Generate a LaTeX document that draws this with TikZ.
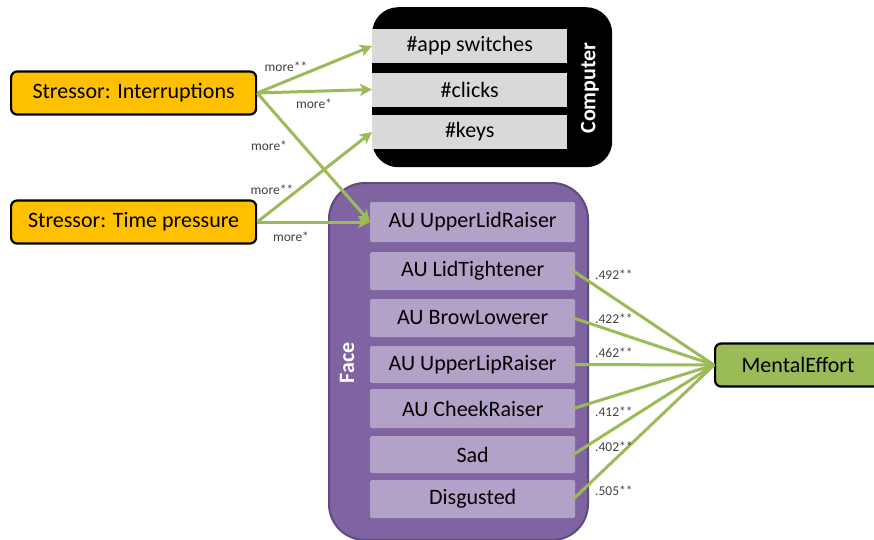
\documentclass[tikz,border=0pt]{standalone}
\usepackage{fontspec}
\setmainfont{Carlito}
\usetikzlibrary{arrows.meta}
\definecolor{orng}{HTML}{FFC000}
\definecolor{grn}{HTML}{9BBB59}
\definecolor{purp}{HTML}{8064A2}
\definecolor{purpdark}{HTML}{5F4A7E}
\definecolor{lpurp}{HTML}{B3A2C7}
\definecolor{lgray}{HTML}{D9D9D9}
\definecolor{lbl}{HTML}{404040}
\tikzset{
  mainfont/.style={font=\fontsize{22}{26}\selectfont},
  stressor/.style={mainfont, draw=black, line width=2.2pt, fill=orng, rounded corners=6pt, minimum width=245pt, minimum height=43pt, inner sep=0pt},
  outcome/.style={mainfont, draw=black, line width=2.2pt, fill=grn, rounded corners=6pt, minimum width=170pt, minimum height=43pt, inner sep=0pt, anchor=west},
  compbox/.style={mainfont, fill=lgray, minimum width=195pt, minimum height=34pt, inner sep=0pt, anchor=west},
  facebox/.style={mainfont, fill=lpurp, rounded corners=1.5pt, minimum width=205pt, minimum height=38pt, inner sep=0pt, anchor=west},
  grouplbl/.style={mainfont, text=white, font=\fontsize{22}{26}\selectfont\bfseries, rotate=90},
  edgelbl/.style={text=lbl, font=\fontsize{13.5}{16}\selectfont, inner sep=0pt},
  arr/.style={draw=grn, line width=3pt, -{Stealth[length=12pt,width=12pt,inset=3pt]}},
  link/.style={draw=grn, line width=3pt},
}
\begin{document}
\begin{tikzpicture}[x=1pt,y=-1pt]
\useasboundingbox (0,0) rectangle (874,539);
% containers
\node[fill=black, rounded corners=26pt, minimum width=240pt, minimum height=160pt, anchor=north west, inner sep=0pt] (computer) at (372,7) {};
\node[fill=purp, draw=purpdark, line width=2pt, rounded corners=36pt, minimum width=259pt, minimum height=357pt, anchor=north west, inner sep=0pt] (face) at (328,182) {};
\node[grouplbl] (complbl) at (590,88) {Computer};
\node[grouplbl] (facelbl) at (347,363) {Face};
% computer metrics
\node[compbox] (app) at (372,46) {\#app switches};
\node[compbox] (clicks) at (372,89.5) {\#clicks};
\node[compbox] (keys) at (372,132) {\#keys};
% face metrics
\node[facebox, minimum height=40pt] (ulr) at (370,222) {AU UpperLidRaiser};
\node[facebox] (lt) at (370,271) {AU LidTightener};
\node[facebox] (bl) at (370,318) {AU BrowLowerer};
\node[facebox, minimum height=37pt] (uplr) at (370,364.5) {AU UpperLipRaiser};
\node[facebox, minimum height=39pt] (cr) at (370,408.5) {AU CheekRaiser};
\node[facebox, minimum height=37pt] (sad) at (370,454.5) {Sad};
\node[facebox] (dis) at (370,499) {Disgusted};
% stressors
\node[stressor, anchor=west] (intr) at (10,93) {Stressor: Interruptions};
\node[stressor, anchor=west] (time) at (10,222) {Stressor: Time pressure};
% outcome
\node[outcome] (me) at (714,365) {\hspace*{-4pt}MentalEffort};
% arrows
\draw[arr] (intr.east) -- (app.west);
\draw[arr] (intr.east) -- (clicks.west);
\draw[arr] (intr.east) -- (ulr.west);
\draw[arr] (time.east) -- (keys.west);
\draw[arr] (time.east) -- (ulr.west);
% links to mental effort
\foreach \n in {lt,bl,uplr,cr,sad,dis} {
  \draw[link] ([xshift=-2pt]\n.east) -- (me.west);
}
% labels
\node[edgelbl] (l1) at (286,67) {more**};
\node[edgelbl] (l2) at (314,104) {more*};
\node[edgelbl] (l3) at (269,146) {more*};
\node[edgelbl] (l4) at (272,190) {more**};
\node[edgelbl] (l5) at (291,237) {more*};
\node[edgelbl, anchor=west] (c1) at (595,275) {.492**};
\node[edgelbl, anchor=west] (c2) at (595,319) {.422**};
\node[edgelbl, anchor=west] (c3) at (595,353) {.462**};
\node[edgelbl, anchor=west] (c4) at (595,412) {.412**};
\node[edgelbl, anchor=west] (c5) at (595,447) {.402**};
\node[edgelbl, anchor=west] (c6) at (595,491) {.505**};
\end{tikzpicture}
\end{document}
